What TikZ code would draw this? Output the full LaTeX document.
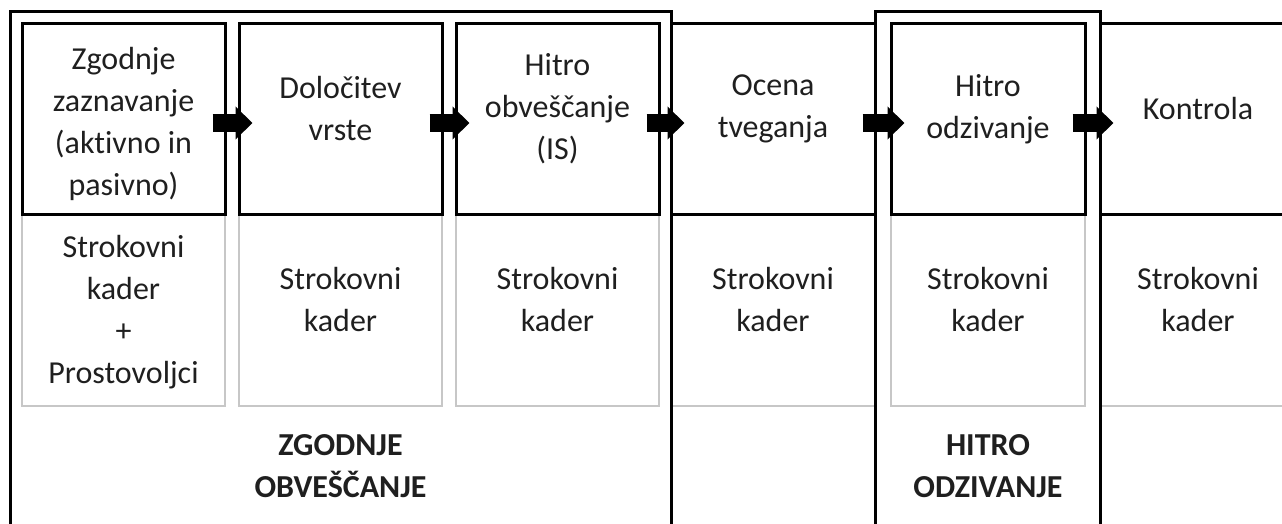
\documentclass[tikz,border=0pt]{standalone}
\usepackage{fontspec}
\setmainfont{Carlito}[Ligatures=NoCommon]
\usetikzlibrary{arrows.meta}

\begin{document}
\begin{tikzpicture}[x=0.5pt,y=-0.5pt,
  box/.style={draw,line width=1.5pt,minimum height=95.5pt,inner sep=0pt},
  cell/.style={draw=black!22,line width=0.75pt,minimum height=95.5pt,inner sep=0pt},
  phase/.style={draw,line width=1.5pt,minimum height=264pt,inner sep=0pt},
  txt/.style={align=center,font=\fontsize{16}{21}\selectfont,text=black!88},
  bold/.style={txt,font=\fontsize{16}{21}\selectfont\bfseries},
  flow/.style={line width=9pt,-{Triangle[length=8.5pt,width=16pt]}}]%
        \useasboundingbox (0,0) rectangle (1282,524);
        \clip (0,0) rectangle (1282,524);
        % staff cells
        \node[cell,minimum width=101.5pt] (s1) at (123.5,310.5) {};
        \node[cell,minimum width=101.5pt] (s2) at (340.5,310.5) {};
        \node[cell,minimum width=101.5pt] (s3) at (557.5,310.5) {};
        \node[cell,minimum width=102pt] (s4) at (773,310.5) {};
        \node[cell,minimum width=97pt] (s5) at (988,310.5) {};
        \node[cell,minimum width=98pt] (s6) at (1198,310.5) {};
        % steps
        \node[box,minimum width=101.5pt] (z1) at (123.5,119.5) {};
        \node[box,minimum width=101.5pt] (z2) at (340.5,119.5) {};
        \node[box,minimum width=101.5pt] (z3) at (557.5,119.5) {};
        \node[box,minimum width=102pt] (z4) at (773,119.5) {};
        \node[box,minimum width=97pt] (z5) at (988,119.5) {};
        \node[box,minimum width=98pt] (z6) at (1198,119.5) {};
        % phases
        \node[phase,minimum width=330.5pt] (o1) at (340.5,276) {};
        \node[phase,minimum width=112.5pt] (o2) at (987.5,276) {};
        \node[txt] (t1) at (123.5,124) {Zgodnje\\zaznavanje\\(aktivno in\\pasivno)};
        \node[txt] (t2) at (340.5,109) {Določitev\\vrste};
        \node[txt] (t3) at (557.5,109) {Hitro\\obveščanje\\(IS)};
        \node[txt] (t4) at (773,109) {Ocena\\tveganja};
        \node[txt] (t5) at (988,109) {Hitro\\odzivanje};
        \node[txt] (t6) at (1198,109) {Kontrola};
        \node[txt] (k1) at (123.5,312) {Strokovni\\kader\\+\\Prostovoljci};
        \foreach \i/\x in {2/340.5,3/557.5,4/773,5/988,6/1198}
          \node[txt] (k\i) at (\x,300) {Strokovni\\kader};
        \node[bold] (p1) at (340.5,466) {ZGODNJE\\OBVEŠČANJE};
        \node[bold] (p2) at (988,466) {HITRO\\ODZIVANJE};
        \foreach \a/\b in {z1/z2,z2/z3,z3/z4,z4/z5,z5/z6}
          \draw[flow] ([xshift=-7pt,yshift=-1.75pt]\a.east) -- ([xshift=7.5pt,yshift=-1.75pt]\b.west);
\end{tikzpicture}
\end{document}
